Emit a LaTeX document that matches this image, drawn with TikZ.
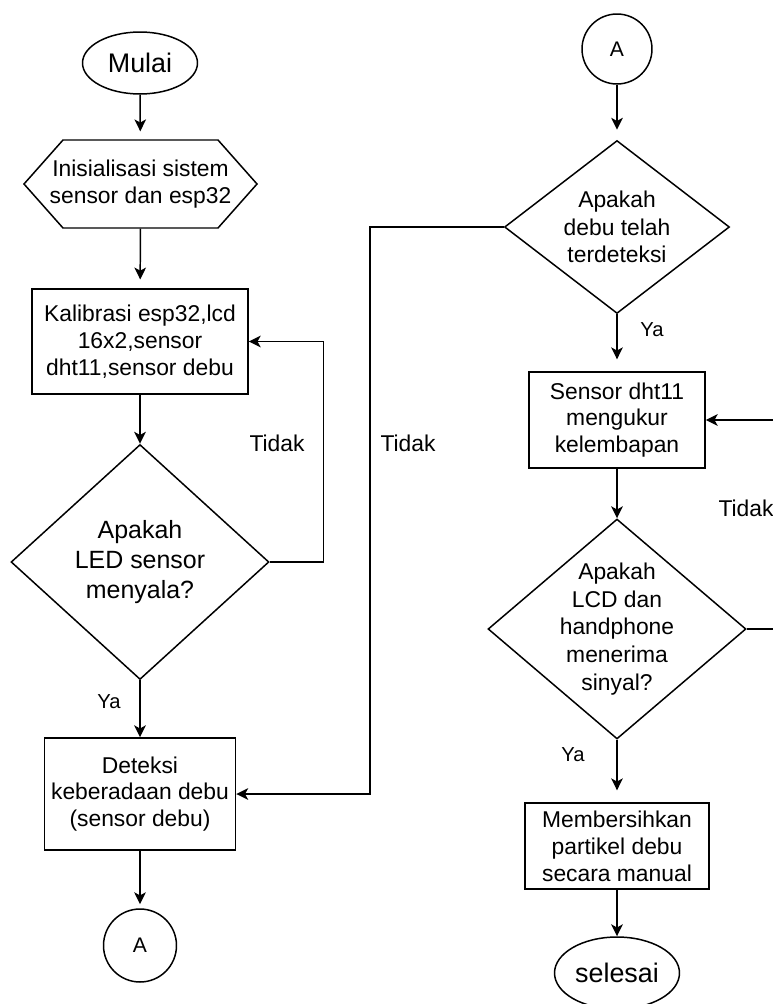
\documentclass[tikz,border=0pt]{standalone}
\usepackage{fontspec}
\setmainfont{Liberation Sans}
\usetikzlibrary{shapes.geometric,arrows.meta}

\begin{document}
\begin{tikzpicture}[x=0.02cm,y=-0.02cm,>={Stealth[length=6.8pt,width=6.6pt,inset=1.8pt]},line width=0.85pt,
    proc node/.style={rectangle,draw,align=center,inner sep=0pt,font=\fontsize{13pt}{15.3pt}\selectfont},
    prep node/.style={rectangle,align=center,inner sep=0pt,font=\fontsize{13pt}{15.8pt}\selectfont},
    dec node/.style={diamond,draw,inner sep=0pt},
    dec text/.style={align=center,inner sep=0pt,font=\fontsize{13pt}{15.8pt}\selectfont},
    term node/.style={ellipse,draw,inner sep=0pt,font=\fontsize{15.3pt}{18pt}\selectfont},
    con node/.style={circle,draw,inner sep=0pt,font=\fontsize{12pt}{14pt}\selectfont},
    lbl node/.style={inner sep=0pt,font=\fontsize{13pt}{15pt}\selectfont},
    ya node/.style={inner sep=0pt,font=\fontsize{11.5pt}{14pt}\selectfont}]
    \useasboundingbox (0,0) rectangle (773,1004);

    % kolom kiri
    \node[term node,minimum width=23mm,minimum height=12.4mm] (mulai) at (140,63) {Mulai};
    \node[prep node,minimum height=17.6mm] (init) at (140.5,184) {Inisialisasi sistem\\sensor dan esp32};
    \draw (init.center) ++(-116.5,0) -- ++(39,-44) -- ++(155,0) -- ++(39,44) -- ++(-39,44) -- ++(-155,0) -- cycle;
    \node[proc node,minimum width=43.2mm,minimum height=21mm] (kalib) at (140,341.5) {Kalibrasi esp32,lcd\\16x2,sensor\\dht11,sensor debu};
    \node[dec node,minimum width=51.6mm,minimum height=47mm] (cek1) at (140,562) {};
    \node[dec text,font=\fontsize{14.2pt}{17pt}\selectfont] (cek1t) at (cek1) {Apakah\\LED sensor\\menyala?};
    \node[proc node,minimum width=38.2mm,minimum height=22.4mm] (deteksi) at (140,794) {Deteksi\\keberadaan debu\\(sensor debu)};
    \node[con node,minimum size=14.6mm] (conA1) at (140,945.5) {A};

    % kolom kanan
    \node[con node,minimum size=14mm] (conA2) at (617,49) {A};
    \node[dec node,minimum width=45mm,minimum height=34.6mm] (cek2) at (617,227) {};
    \node[dec text] (cek2t) at (cek2) {Apakah\\debu telah\\terdeteksi};
    \node[proc node,minimum width=35.2mm,minimum height=19.2mm] (ukur) at (617,420) {Sensor dht11\\mengukur\\kelembapan};
    \node[dec node,minimum width=51.6mm,minimum height=44mm] (cek3) at (617,629) {};
    \node[dec text] (cek3t) at (cek3) {Apakah\\LCD dan\\handphone\\menerima\\sinyal?};
    \node[proc node,minimum width=36.8mm,minimum height=17.2mm] (bersih) at (617,846) {Membersihkan\\partikel debu\\secara manual};
    \node[term node,minimum width=25mm,minimum height=14.4mm] (selesai) at (617,973) {selesai};
    \coordinate (kanan) at (782,629);

    \path[->]
        (mulai) edge[shorten >=4.5pt] (init)
        (init) edge[shorten >=5pt] (kalib)
        (kalib) edge (cek1)
        (cek1) edge (deteksi)
        (deteksi) edge[shorten >=2.3pt] (conA1)
        (conA2) edge[shorten >=5.7pt] (cek2)
        (cek2) edge[shorten >=6.8pt] (ukur)
        (ukur) edge (cek3)
        (cek3) edge[shorten >=6.8pt] (bersih)
        (bersih) edge (selesai)
    ;

    \draw[->] (cek1.east) -- ++(54,0) |- (kalib.east);
    \draw[->] (cek2.west) -- ++(-134,0) |- (deteksi.east);
    \draw[->] (cek3.east) -- (kanan) |- (ukur.east);

    \node[lbl node] (tidak1) at (277,443) {Tidak};
    \node[lbl node] (tidak2) at (408,443) {Tidak};
    \node[lbl node] (tidak3) at (746,508) {Tidak};
    \node[ya node] (ya1) at (109,702) {Ya};
    \node[ya node] (ya2) at (652,330) {Ya};
    \node[ya node] (ya3) at (573,755) {Ya};
\end{tikzpicture}
\end{document}
